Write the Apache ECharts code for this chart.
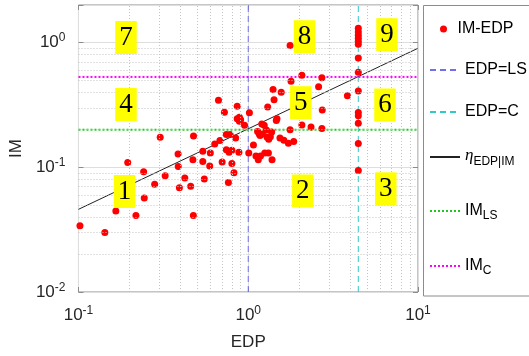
<!DOCTYPE html>
<html>
<head>
<meta charset="utf-8">
<script src="https://cdn.jsdelivr.net/npm/echarts@6/dist/echarts.min.js"></script>
<style>
  html, body { margin: 0; padding: 0; background: #fff; }
  #chart { width: 529px; height: 356px; }
</style>
</head>
<body>
<div id="chart"></div>
<script>
// IM-EDP pairs
const edp = [0.102, 0.143, 0.166, 0.218, 0.244, 0.195, 0.242, 0.281, 0.303, 0.324,
  0.386, 0.387, 0.393, 0.423, 0.458, 0.475, 0.476, 0.540, 0.472, 0.540,
  0.551, 0.593, 0.598, 0.635, 0.681, 0.668, 0.724, 0.743, 0.782, 0.702,
  0.743, 0.771, 0.801, 0.801, 0.824, 0.764, 0.861, 0.861, 0.887, 0.902,
  0.887, 0.951, 0.881, 1.007, 1.016, 1.073, 1.110, 1.146, 1.181, 1.251,
  1.135, 1.161, 1.202, 1.242, 1.174, 1.213, 1.292, 1.320, 1.350, 1.374,
  1.315, 1.381, 1.302, 1.419, 1.477, 1.463, 1.400, 1.564, 1.537, 1.621,
  1.724, 1.853, 1.764, 1.764, 1.787, 2.070, 2.070, 2.344, 2.597, 2.715,
  2.729, 2.715, 3.839, 1.280, 0.843,
  4.45, 4.45, 4.45, 4.45, 4.45, 4.45, 4.45, 4.45, 4.45, 4.45, 4.45, 4.45, 4.45, 4.45];
const im = [0.034, 0.030, 0.0447, 0.041, 0.0567, 0.109, 0.092, 0.073, 0.174, 0.0857,
  0.128, 0.1015, 0.0686, 0.082, 0.0705, 0.041, 0.178, 0.1345, 0.115, 0.111,
  0.0805, 0.1024, 0.130, 0.154, 0.164, 0.345, 0.276, 0.183, 0.183, 0.110,
  0.138, 0.132, 0.137, 0.107, 0.0905, 0.0754, 0.308, 0.245, 0.252, 0.241,
  0.234, 0.217, 0.132, 0.130, 0.274, 0.151, 0.123, 0.115, 0.123, 0.130,
  0.194, 0.185, 0.222, 0.217, 0.180, 0.185, 0.174, 0.168, 0.176, 0.192,
  0.130, 0.115, 0.304, 0.348, 0.245, 0.237, 0.420, 0.400, 0.172, 0.165,
  0.156, 0.161, 0.200, 0.947, 0.489, 0.218, 0.548, 0.210, 0.443, 0.522,
  0.288, 0.205, 0.374, 0.199, 0.172,
  1.30, 1.217, 1.142, 1.081, 1.024, 0.970, 0.751, 0.579, 0.408, 0.275, 0.259, 0.225, 0.155, 0.0944];

// thresholds and fitted median line
const edpLS = 1.0;
const edpC = 4.45;
const imLS = 0.2;
const imC = 0.53;
const fitEdp = [0.1, 10];
const fitIm = [0.046, 0.90];

const xRange = [0.1, 10];
const yRange = [0.01, 2];
const zoneNames = ['1', '2', '3', '4', '5', '6', '7', '8', '9'];

const axisColor = '#8c8c8c';
const textColor = '#262626';

// minor grid at 2..9 of each decade
function minors(lo, hi) {
  const out = [];
  for (let d = lo; d < hi; d *= 10) {
    for (let k = 2; k <= 9; k++) {
      const v = +(k * d).toPrecision(3);
      if (v < hi) out.push(v);
    }
  }
  return out;
}
const minorX = minors(0.1, 10);
const minorY = minors(0.01, 2);

const isPow10 = v => Math.abs(Math.log10(v) - Math.round(Math.log10(v))) < 1e-6;
const powLabel = v => isPow10(v) ? '10{sup|' + Math.round(Math.log10(v)) + '}' : '';

const tickRich = {
  sup: { fontSize: 12, fontFamily: 'Liberation Sans', color: textColor, padding: [0, 0, 9, 0] }
};

function logAxis(range, pos, main) {
  return {
    type: 'log', logBase: 10, min: range[0], max: range[1], position: pos,
    axisLine: { show: false },
    axisTick: { show: true, inside: true, length: 5, lineStyle: { color: axisColor } },
    axisLabel: main ? {
      show: true, formatter: powLabel, color: textColor,
      fontSize: 17, fontFamily: 'Liberation Sans', margin: 13, rich: tickRich
    } : { show: false },
    splitLine: main ? { show: true, lineStyle: { color: '#dedede', width: 1 } } : { show: false }
  };
}

const xMain = logAxis(xRange, 'bottom', true);
xMain.name = 'EDP';
xMain.nameLocation = 'middle';
xMain.nameGap = 42;
xMain.nameTextStyle = { fontSize: 17, fontFamily: 'Liberation Sans', color: textColor };

const yMain = logAxis(yRange, 'left', true);
yMain.name = 'IM';
yMain.nameLocation = 'middle';
yMain.nameGap = 36;
yMain.nameTextStyle = { fontSize: 17, fontFamily: 'Liberation Sans', color: textColor };

const legendLabels = {
  'IM-EDP': 'IM-EDP',
  'EDP=LS': 'EDP=LS',
  'EDP=C': 'EDP=C',
  'eta': '{eta|η}{sub|EDP|IM}',
  'IM_LS': 'IM{sub|LS}',
  'IM_C': 'IM{sub|C}'
};
const legendTops = { 'IM-EDP': 21, 'EDP=LS': 62, 'EDP=C': 104, 'eta': 147, 'IM_LS': 203, 'IM_C': 258 };

const legends = Object.keys(legendLabels).map(name => {
  const dot = name === 'IM-EDP';
  return {
    data: [name],
    left: dot ? 440 : 429,
    top: legendTops[name],
    padding: 0,
    itemWidth: dot ? 18 : 30,
    itemHeight: dot ? 7 : 12,
    selectedMode: false,
    itemStyle: dot ? {} : { opacity: 0 },
    formatter: n => legendLabels[n],
    textStyle: {
      fontSize: 16, fontFamily: 'Liberation Sans', color: '#000',
      rich: {
        sub: { fontSize: 12, fontFamily: 'Liberation Sans', color: '#000', padding: [9, 0, 0, 0] },
        eta: { fontSize: 17, fontFamily: 'Liberation Serif', fontStyle: 'italic', color: '#000', padding: [0, 0, 3, 0] }
      }
    }
  };
});

function vline(x) { return [[x, yRange[0]], [x, yRange[1]]]; }
function hline(y) { return [[xRange[0], y], [xRange[1], y]]; }

// yellow zone tags, pixel placed like the annotations in the source figure
const zonePos = [[124.5, 191.5], [302.8, 191], [385.8, 188.8], [126, 104.5], [300.8, 102.7],
  [385, 105], [126, 37.5], [304.5, 36.7], [387, 34.7]];
const zoneGraphics = zoneNames.map((t, i) => ({
  type: 'text', x: zonePos[i][0], y: zonePos[i][1], z: 50,
  style: {
    text: t, fill: '#000', fontSize: 27, fontFamily: 'Liberation Serif',
    backgroundColor: '#ffff00', padding: [3, 4, 3, 4],
    align: 'center', verticalAlign: 'middle'
  }
}));

const chart = echarts.init(document.getElementById('chart'));
chart.setOption({
  backgroundColor: '#fff',
  animation: false,
  grid: { left: 73, right: 111, top: 5, bottom: 60, show: true, borderColor: axisColor, borderWidth: 1 },
  xAxis: [xMain, logAxis(xRange, 'top', false)],
  yAxis: [yMain, logAxis(yRange, 'right', false)],
  legend: legends,
  graphic: [
    {
      type: 'rect', shape: { x: 423.5, y: 5.5, width: 140, height: 290.5 },
      style: { fill: 'none', stroke: axisColor, lineWidth: 1 }, z: 0
    }
  ].concat(zoneGraphics),
  series: [
    {
      type: 'line', data: [], z: 1, silent: true,
      markLine: {
        silent: true, symbol: ['none', 'none'], label: { show: false },
        lineStyle: { type: [1, 2], color: '#c4c4c4', width: 1 },
        data: minorX.map(v => ({ xAxis: v })).concat(minorY.map(v => ({ yAxis: v })))
      }
    },
    {
      name: 'EDP=LS', type: 'line', data: vline(edpLS), symbol: 'none', z: 3,
      lineStyle: { color: '#7070ee', width: 1, type: [6, 4] }, itemStyle: { color: '#7070ee' }
    },
    {
      name: 'EDP=C', type: 'line', data: vline(edpC), symbol: 'none', z: 3,
      lineStyle: { color: '#30c8c8', width: 1, type: [6, 4] }, itemStyle: { color: '#30c8c8' }
    },
    {
      name: 'eta', type: 'line', data: fitEdp.map((x, i) => [x, fitIm[i]]), symbol: 'none', z: 3,
      lineStyle: { color: '#222', width: 1 }, itemStyle: { color: '#222' }
    },
    {
      name: 'IM_LS', type: 'line', data: hline(imLS), symbol: 'none', z: 3,
      lineStyle: { color: '#1ec81e', width: 2, type: [2, 2] }, itemStyle: { color: '#1ec81e' }
    },
    {
      name: 'IM_C', type: 'line', data: hline(imC), symbol: 'none', z: 3,
      lineStyle: { color: '#ff00ff', width: 2, type: [2, 2] }, itemStyle: { color: '#ff00ff' }
    },
    {
      name: 'IM-EDP', type: 'scatter', data: edp.map((x, i) => [x, im[i]]), z: 4,
      symbol: 'circle', symbolSize: 7, itemStyle: { color: '#ff0000', opacity: 1 }
    }
  ]
});
</script>
</body>
</html>
